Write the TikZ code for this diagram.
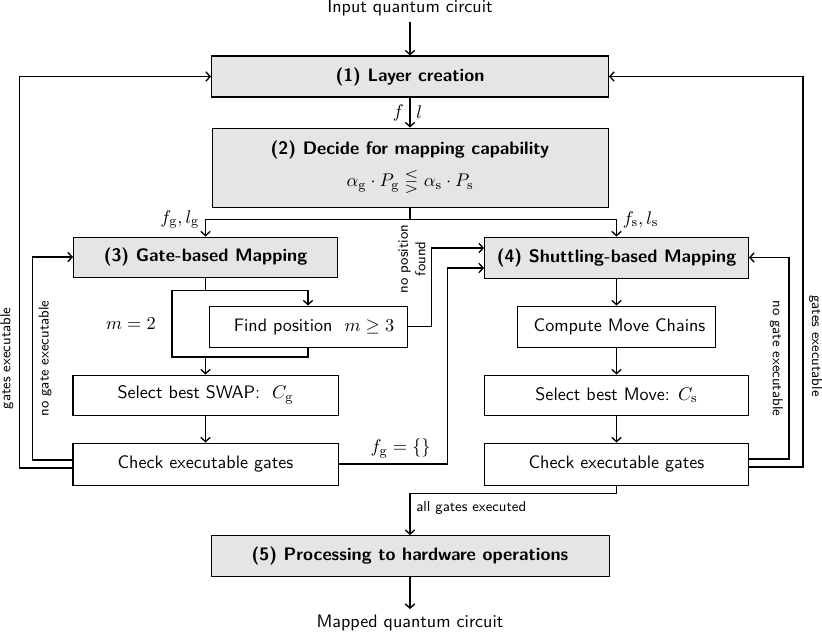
\documentclass[tikz,border=0pt]{standalone}
\usepackage{amsmath, amssymb}
\usepackage{tikz}
\usetikzlibrary{arrows.meta, calc}
\newcommand{\pxl}{0.021cm}
\newcommand{\figsize}{\fontsize{10.8}{13}\selectfont}
\newcommand{\sidesize}{\fontsize{8.6}{10.5}\selectfont}
\tikzset{wd/.style={minimum width=#1*\pxl}, ht/.style={minimum height=#1*\pxl}}

\begin{document}
\begin{tikzpicture}[x=0.021cm, y=-0.021cm, font=\sffamily\figsize,
  stage/.style={draw, semithick, fill=black!10, font=\sffamily\bfseries\figsize},
  substep/.style={draw, semithick, fill=white},
  flow/.style={thick, -{Straight Barb[length=0.9mm, width=2mm]}},
  side/.style={font=\sffamily\sidesize}]
			\useasboundingbox (0,0) rectangle (822,633);
			\node (in) at (410,8) {Input quantum circuit};
			\node[stage, wd=397, ht=41] (layer) at (410,76.5) {(1) Layer creation};
			\node[stage, wd=396, ht=79, align=center] (decide) at (410,167.5) {(2) Decide for mapping capability\\[6pt] \mdseries $\alpha_\mathrm{g}\cdot P_\mathrm{g} \lesseqgtr \alpha_\mathrm{s}\cdot P_\mathrm{s}$};
			\node[stage, wd=264, ht=40] (gate) at (205.5,257) {(3) Gate-based Mapping};
			\node[stage, wd=264, ht=41] (shuttle) at (616.5,257.5) {(4) Shuttling-based Mapping};
			\node[substep, wd=198, ht=41] (findpos) at (308,326.5) {\ \ Find position\ \ $m\geq 3$};
			\node[substep, wd=198, ht=41] (chains) at (616.5,326.5) {\ Compute Move Chains};
			\node[substep, wd=265, ht=40] (swap) at (205.5,395) {Select best SWAP:\ \ $C_\mathrm{g}$};
			\node[substep, wd=264, ht=40] (move) at (616.5,395) {Select best Move: $C_\mathrm{s}$};
			\node[substep, wd=265, ht=42] (checkg) at (205.5,464) {Check executable gates};
			\node[substep, wd=264, ht=42] (checks) at (616.5,464) {Check executable gates};
			\node[stage, wd=398, ht=41] (hw) at (410,556) {(5) Processing to hardware operations};
			\node (out) at (410,623) {Mapped quantum circuit};
			\node[side, rotate=90, align=center] (nopos) at (412,259) {no position\\found};
			\coordinate (split) at ($(decide.south)+(0,12)$);
			\coordinate (gsplit) at ($(gate.south)+(0,13)$);
			\coordinate (mjoin) at (172,357);
			\draw[flow] (in) -- (layer);
			\draw[flow] (layer) -- node[left]{$f$} node[right]{$l$} (decide);
			\draw[thick] (decide.south) -- (split);
			\draw[flow] (split) -| node[pos=.5, left]{$f_\mathrm{g}, l_\mathrm{g}$} (gate.north);
			\draw[flow] (split) -| node[pos=.5, right]{$f_\mathrm{s}, l_\mathrm{s}$} (shuttle.north);
			\draw[thick] (gate.south) -- (gsplit);
			\draw[flow] (gsplit) -| (findpos.north);
			\draw[thick] (gsplit) -| node[pos=.75, left=6pt]{$m=2$} (mjoin) -| (findpos.south);
			\draw[flow] (gate.south |- mjoin) -- (swap.north);
			\draw[flow] (swap) -- (checkg);
			\draw[flow] (shuttle) -- (chains);
			\draw[flow] (chains) -- (move);
			\draw[flow] (move) -- (checks);
			\draw[flow] (findpos.east) -- ++(24,0) |- ($(shuttle.west)+(0,-9.5)$);
			\draw[flow] (checkg.east) -- node[pos=.57, above]{$f_\mathrm{g}=\{\}$} ++(109,0) |- ($(shuttle.west)+(0,10.5)$);
			\draw[flow] ($(checkg.west)+(0,-4)$) -- ++(-40,0) |- node[pos=.25, side, rotate=90, below]{no gate executable} (gate.west);
			\draw[flow] ($(checkg.west)+(0,4)$) -- ++(-53,0) |- node[pos=.14, side, rotate=90, above]{gates executable} (layer.west);
			\draw[flow] ($(checks.east)+(0,-5)$) -- ++(40,0) |- node[pos=.25, side, rotate=-90, below]{no gate executable} (shuttle.east);
			\draw[flow] ($(checks.east)+(0,3)$) -- ++(54,0) |- node[pos=.155, side, rotate=-90, above]{gates executable} (layer.east);
			\draw[flow] (checks.south) -- ++(0,8) -| node[pos=.67, right, side]{all gates executed} (hw.north);
			\draw[flow] (hw) -- (out);
		\end{tikzpicture}
\end{document}
